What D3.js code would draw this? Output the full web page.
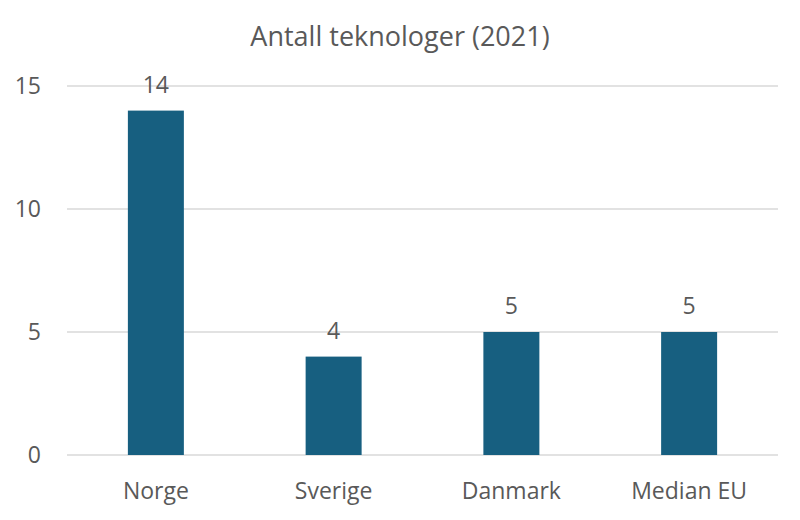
<!DOCTYPE html>
<html>
<head>
<meta charset="utf-8">
<script src="https://cdn.jsdelivr.net/npm/d3@7"></script>
<style>
  body { margin: 0; background: #fff; }
  text { font-family: "Open Sans", "Liberation Sans", sans-serif; fill: #595959; }
</style>
</head>
<body>
<svg id="chart" width="800" height="520"></svg>
<script>
// data
const countries = ["Norge", "Sverige", "Danmark", "Median EU"];
const antall = [14, 4, 5, 5];
const yTicks = [0, 5, 10, 15];

const svg = d3.select("#chart");
const margin = {left: 67, right: 22, top: 86, bottom: 65};
const w = 800 - margin.left - margin.right;
const h = 520 - margin.top - margin.bottom;

const x = d3.scaleBand().domain(countries).range([margin.left, margin.left + w]).paddingInner(0.685).paddingOuter(0.3425);
const y = d3.scaleLinear().domain([0, 15]).range([margin.top + h, margin.top]);

// gridlines
svg.append("g")
  .selectAll("line")
  .data(yTicks)
  .join("line")
  .attr("x1", margin.left).attr("x2", margin.left + w)
  .attr("y1", d => y(d)).attr("y2", d => y(d))
  .attr("stroke", "#d9d9d9").attr("stroke-width", 1.3);

// y labels
svg.append("g")
  .selectAll("text")
  .data(yTicks)
  .join("text")
  .attr("x", 41).attr("y", d => y(d))
  .attr("dy", "0.36em")
  .attr("text-anchor", "end")
  .style("font-size", "23px")
  .text(d => d);

// bars
svg.append("g")
  .selectAll("rect")
  .data(antall)
  .join("rect")
  .attr("x", (d, i) => x(countries[i]))
  .attr("width", x.bandwidth())
  .attr("y", d => y(d))
  .attr("height", d => y(0) - y(d))
  .attr("fill", "#175f80");

// value labels
svg.append("g")
  .selectAll("text")
  .data(antall)
  .join("text")
  .attr("x", (d, i) => x(countries[i]) + x.bandwidth() / 2)
  .attr("y", d => y(d) - 18)
  .attr("text-anchor", "middle")
  .style("font-size", "23px")
  .text(d => d);

// category labels
svg.append("g")
  .selectAll("text")
  .data(countries)
  .join("text")
  .attr("x", d => x(d) + x.bandwidth() / 2)
  .attr("y", y(0) + 44)
  .attr("text-anchor", "middle")
  .style("font-size", "23px")
  .text(d => d);

// title
svg.append("text")
  .attr("x", 400).attr("y", 46)
  .attr("text-anchor", "middle")
  .style("font-size", "27px")
  .text("Antall teknologer (2021)");
</script>
</body>
</html>
